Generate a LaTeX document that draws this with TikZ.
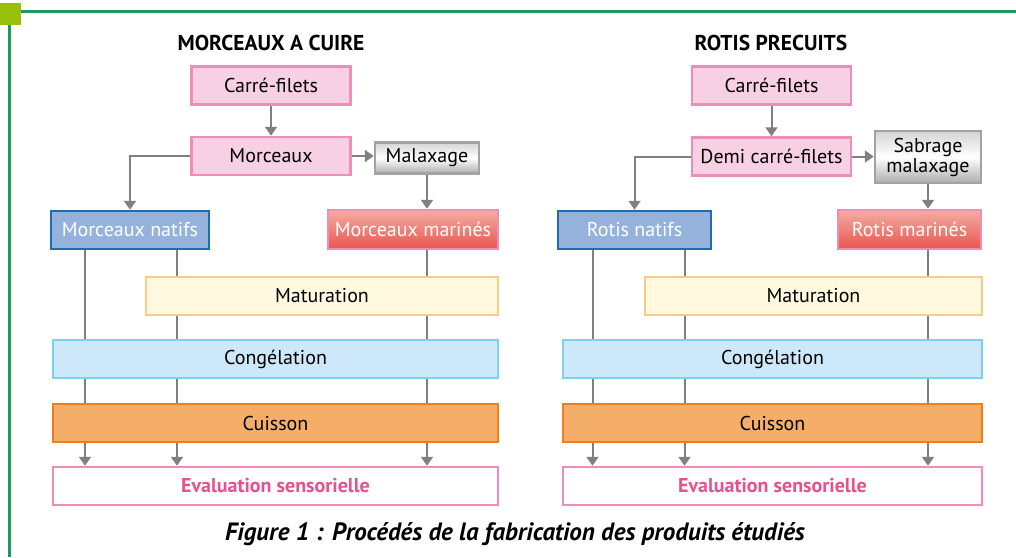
\documentclass[tikz,border=0pt]{standalone}
\usepackage{fontspec}
\setmainfont{PT Sans}
\usetikzlibrary{arrows.meta,backgrounds}
\definecolor{frgreen}{HTML}{1A9A5E}
\definecolor{frlime}{HTML}{99BF0D}
\definecolor{linegray}{HTML}{808080}
\definecolor{pinkfill}{HTML}{F7D1E3}
\definecolor{pinkline}{HTML}{EF8DB8}
\definecolor{pinktext}{HTML}{E8508E}
\definecolor{bluefill}{HTML}{94B2DC}
\definecolor{blueline}{HTML}{1F6DB5}
\definecolor{yelfill}{HTML}{FFF9E0}
\definecolor{yelline}{HTML}{FCCA88}
\definecolor{cyanfill}{HTML}{CDE9F9}
\definecolor{cyanline}{HTML}{7FD0F0}
\definecolor{orgfill}{HTML}{F4AE6A}
\definecolor{orgline}{HTML}{F07F1A}
\definecolor{martop}{HTML}{F4ACA4}
\definecolor{marbot}{HTML}{E8564E}
\definecolor{graytop}{HTML}{D4D4D4}
\definecolor{graybot}{HTML}{ADADAD}
\definecolor{grayline}{HTML}{A3A3A3}

\begin{document}
\begin{tikzpicture}[x=1pt,y=-1pt,
    box/.style={draw,line width=2.5pt,inner sep=0pt,minimum height=38pt,
      font=\fontsize{20}{22}\selectfont},
    pinkbox/.style={box,draw=pinkline,fill=pinkfill},
    graybox/.style={box,draw=grayline,top color=graytop,bottom color=graybot,middle color=white},
    natbox/.style={box,draw=blueline,fill=bluefill,text=white},
    marbox/.style={box,draw=pinkline,top color=martop,bottom color=marbot,text=white},
    title/.style={font=\fontsize{21.5}{24}\selectfont\bfseries},
    flow/.style={draw=linegray,line width=2pt,-{Triangle[width=12pt,length=9pt]}}]
    \useasboundingbox (0,0) rectangle (1016,557);
    % frame
    \draw[frgreen,line width=3pt](21,11.3)--(1016,11.3);
    \draw[frgreen,line width=3pt](9.5,24)--(9.5,557);
    \fill[frlime](0,2.7)rectangle(21,25);

    % morceaux a cuire
    \node[title] (titleL) at (271,43) {MORCEAUX A CUIRE};
    \node[pinkbox,minimum width=159] (carreL) at (271,85.5) {Carré-filets};
    \node[pinkbox,minimum width=159] (morcL) at (271,156) {Morceaux};
    \node[graybox,minimum width=104,minimum height=31] (malaxL) at (427,158) {Malaxage};
    \node[natbox,minimum width=158] (natifL) at (130,230) {Morceaux natifs};
    \node[marbox,minimum width=170,minimum height=39] (marinL) at (413,229.5) {Morceaux marinés};
    \node[box,draw=yelline,fill=yelfill,minimum width=352] (maturL) at (322,296) {Maturation};
    \node[box,draw=cyanline,fill=cyanfill,minimum width=445] (congL) at (275.5,359) {Congélation};
    \node[box,draw=orgline,fill=orgfill,minimum width=445] (cuisL) at (275.5,423) {Cuisson};
    \node[box,draw=pinkline,fill=white,text=pinktext,font=\fontsize{20}{22}\selectfont\bfseries,
      minimum width=445] (evalL) at (275.5,486) {Evaluation sensorielle};

    % rotis precuits
    \node[title] (titleR) at (771,43) {ROTIS PRECUITS};
    \node[pinkbox,minimum width=159] (carreR) at (771.5,85.5) {Carré-filets};
    \node[pinkbox,minimum width=159] (morcR) at (771.5,156.5) {Demi carré-filets};
    \node[graybox,minimum width=106,minimum height=52,align=center,
      font=\fontsize{20}{20}\selectfont] (sabrR) at (928,157) {Sabrage\\malaxage};
    \node[natbox,minimum width=153] (natifR) at (634.5,230) {Rotis natifs};
    \node[marbox,minimum width=143,minimum height=39] (marinR) at (909.5,229.5) {Rotis marinés};
    \node[box,draw=yelline,fill=yelfill,minimum width=337] (maturR) at (813.5,296) {Maturation};
    \node[box,draw=cyanline,fill=cyanfill,minimum width=419] (congR) at (772.5,359) {Congélation};
    \node[box,draw=orgline,fill=orgfill,minimum width=419] (cuisR) at (772.5,423) {Cuisson};
    \node[box,draw=pinkline,fill=white,text=pinktext,font=\fontsize{20}{22}\selectfont\bfseries,
      minimum width=419] (evalR) at (772.5,486) {Evaluation sensorielle};

    \node[font=\fontsize{25}{28}\selectfont\bfseries\itshape] (caption) at (515,534)
      {Figure 1 : Procédés de la fabrication des produits étudiés};

    \coordinate (l1) at ([xshift=-45pt]natifL.south);
    \coordinate (l2) at ([xshift=47pt]natifL.south);
    \coordinate (l3) at (malaxL.south |- marinL.south);
    \coordinate (r1) at ([xshift=-42pt]natifR.south);
    \coordinate (r2) at ([xshift=50pt]natifR.south);
    \coordinate (r3) at (sabrR.south |- marinR.south);

    \begin{pgfonlayer}{background}
    \draw[flow](carreL)--(morcL);
    \draw[flow](morcL.west)-|(natifL.north);
    \draw[flow](morcL.east)--(morcL.east -| malaxL.west);
    \draw[flow](malaxL.south)--(malaxL.south |- marinL.north);
    \foreach \p in {l1,l2,l3}
      \draw[flow](\p)--(\p |- evalL.north);

    \draw[flow](carreR)--(morcR);
    \draw[flow](morcR.west)-|(natifR.north);
    \draw[flow](morcR.east)--(morcR.east -| sabrR.west);
    \draw[flow](sabrR.south)--(sabrR.south |- marinR.north);
    \foreach \p in {r1,r2,r3}
      \draw[flow](\p)--(\p |- evalR.north);
    \end{pgfonlayer}
\end{tikzpicture}
\end{document}
